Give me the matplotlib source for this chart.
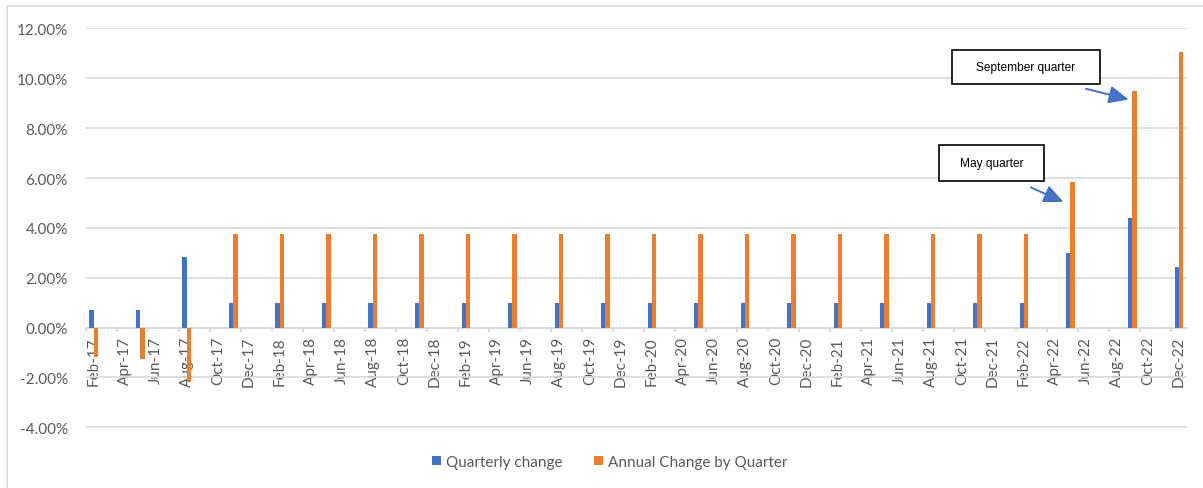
import matplotlib.pyplot as plt
from matplotlib.patches import Rectangle
import matplotlib.ticker as mtick
import numpy as np
import pandas as pd


# Monthly categories for the date axis, Feb-17 through Dec-22
months = pd.date_range('2017-02-01', '2022-12-01', freq='MS').strftime('%b-%y').tolist()

# Months that actually carry a reading
quarter_months = ['Feb-17', 'May-17', 'Aug-17', 'Nov-17',
                  'Feb-18', 'May-18', 'Aug-18', 'Nov-18',
                  'Feb-19', 'May-19', 'Aug-19', 'Nov-19',
                  'Feb-20', 'May-20', 'Aug-20', 'Nov-20',
                  'Feb-21', 'May-21', 'Aug-21', 'Nov-21',
                  'Feb-22', 'May-22', 'Sep-22', 'Dec-22']

# Values in percent
quarterly_change = [0.70, 0.70, 2.85, 0.97,
                    0.97, 0.97, 0.97, 0.97,
                    0.97, 0.97, 0.97, 0.97,
                    0.97, 0.97, 0.97, 0.97,
                    0.97, 0.97, 0.97, 0.97,
                    0.97, 3.00, 4.40, 2.42]
annual_change = [-1.20, -1.25, -2.20, 3.75,
                 3.75, 3.75, 3.75, 3.75,
                 3.75, 3.75, 3.75, 3.75,
                 3.75, 3.75, 3.75, 3.75,
                 3.75, 3.75, 3.75, 3.75,
                 3.75, 5.85, 9.50, 11.05]

series_names = ['Quarterly change', 'Annual Change by Quarter']

BLUE = '#4472C4'
ORANGE = '#ED7D31'
GRID = '#D9D9D9'
TEXT = '#595959'

plt.rcParams['font.family'] = ['Lato', 'DejaVu Sans']

fig = plt.figure(figsize=(12.03, 4.89), dpi=100)
ax = fig.add_axes([0.0715, 0.1227, 0.915, 0.8186])

# Position of each reading on the monthly axis
x = np.array([months.index(m) for m in quarter_months])
w = 0.28

ax.bar(x - w / 2, quarterly_change, width=w, color=BLUE, label=series_names[0], zorder=3)
ax.bar(x + w / 2, annual_change, width=w, color=ORANGE, label=series_names[1], zorder=3)

ax.set_xlim(-0.5, len(months) - 0.5)
ax.set_ylim(-4.03, 12.03)
ax.set_yticks(np.arange(-4, 13, 2))
ax.yaxis.set_major_formatter(mtick.FuncFormatter(lambda v, p: f'{v:.2f}%'))

# Gridlines, no frame apart from the category axis at zero
ax.yaxis.grid(True, color=GRID, lw=1.2)
ax.set_axisbelow(True)
for s in ['left', 'right', 'top']:
    ax.spines[s].set_visible(False)
ax.spines['bottom'].set_position(('data', 0))
ax.spines['bottom'].set_color(GRID)
ax.spines['bottom'].set_linewidth(1.2)
ax.spines['bottom'].set_zorder(2)

# Labels every second month, tick marks at the category boundaries
label_pos = np.arange(0, len(months), 2)
ax.set_xticks(label_pos)
ax.set_xticklabels([months[i] for i in label_pos], rotation=90, va='top', ha='center')
ax.set_xticks(label_pos - 0.5, minor=True)
ax.tick_params(axis='x', which='major', length=0, pad=6, labelsize=11, labelcolor=TEXT)
ax.tick_params(axis='x', which='minor', length=3, color=GRID, width=1.2)
ax.tick_params(axis='y', length=0, pad=13, labelsize=11, labelcolor=TEXT)

# Call-out boxes and arrows
boxes = [((0.7865, 0.8594), 0.135, 0.0857, 'September quarter'),
         ((0.7752, 0.6178), 0.0949, 0.0892, 'May quarter')]
for (bx, by), bw, bh, txt in boxes:
    ax.add_patch(Rectangle((bx, by), bw, bh, transform=ax.transAxes, fill=True,
                           facecolor='white', edgecolor='black', lw=1.2, zorder=5))
    ax.text(bx + bw / 2, by + bh / 2, txt, transform=ax.transAxes, ha='center',
            va='center', fontsize=8.6, family='Liberation Sans', color='black', zorder=6)

arrows = [((64.0, 9.58), (66.75, 9.15)),
          ((60.45, 5.62), (62.55, 5.04))]
for tail, tip in arrows:
    ax.annotate('', xy=tip, xytext=tail,
                arrowprops=dict(arrowstyle='-|>,head_length=0.6,head_width=0.27',
                                color=BLUE, lw=1.4,
                                mutation_scale=20, shrinkA=0, shrinkB=0),
                zorder=6)

leg = fig.legend(loc='center', bbox_to_anchor=(0.507, 1 - 463 / 489), ncol=2,
                 frameon=False, fontsize=11, handlelength=0.55, handleheight=0.55,
                 handletextpad=0.35, columnspacing=2.1, labelcolor=TEXT)

# Light chart-area border
fig.patches.append(Rectangle((7 / 1203, -0.1), 1.2, 1.1 - 7 / 489, transform=fig.transFigure,
                             fill=False, edgecolor=GRID, lw=1.2))

fig.savefig('out.png', dpi=100)
